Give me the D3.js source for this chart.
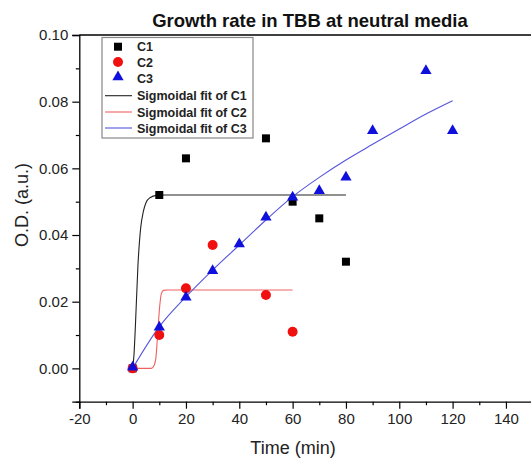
<!DOCTYPE html>
<html>
<head>
<meta charset="utf-8">
<script src="https://cdn.jsdelivr.net/npm/d3@7/dist/d3.min.js"></script>
<style>
body { margin: 0; background: #fff; }
text { font-family: Arial, "Liberation Sans", sans-serif; }
</style>
</head>
<body>
<div id="chart"></div>
<script>
var width = 531,
	height = 459;

// measured points
var c1 = [[0,0],[10,0.052],[20,0.063],[50,0.069],[60,0.050],[70,0.045],[80,0.032]];
var c2 = [[0,0],[10,0.010],[20,0.024],[30,0.037],[50,0.022],[60,0.011]];
var c3 = [[0,0],[10,0.012],[20,0.021],[30,0.029],[40,0.037],[50,0.045],[60,0.051],[70,0.053],[80,0.057],[90,0.071],[110,0.089],[120,0.071]];

// fitted curves
var fit1 = [[0,0],[0.5,0.004],[1,0.012],[2,0.031],[3,0.042],[4,0.047],[5,0.0497],[6.5,0.0512],[9,0.0519],[12,0.052],[80,0.052]];
var fit2 = [[0,0],[7,0],[8,0.0008],[8.7,0.003],[9.2,0.008],[9.7,0.014],[10.2,0.019],[10.8,0.0225],[11.6,0.0234],[13,0.0235],[60,0.0235]];
var fit3 = [[0,0],[10,0.0125],[20,0.0215],[30,0.0295],[40,0.037],[50,0.0445],[60,0.0515],[70,0.0573],[80,0.0625],[90,0.0672],[100,0.0718],[110,0.0763],[120,0.0803]];

var xTicks = [-20,0,20,40,60,80,100,120,140];
var xMinor = [-10,10,30,50,70,90,110,130,150];
var yTicks = [0,0.02,0.04,0.06,0.08,0.10];
var yMinor = [-0.01,0.01,0.03,0.05,0.07,0.09];

var legendItems = ["C1","C2","C3","Sigmoidal fit of C1","Sigmoidal fit of C2","Sigmoidal fit of C3"];

var svg = d3.select("#chart").append("svg")
	.attr("width", width)
	.attr("height", height);

var x = d3.scaleLinear().domain([-20,150]).range([79.3, 532.6]);
var y = d3.scaleLinear().domain([-0.01,0.10]).range([401.7, 35]);

// title
svg.append("text")
	.attr("x", 310).attr("y", 26.5)
	.attr("text-anchor","middle")
	.attr("font-size","18.5px")
	.attr("font-weight","bold")
	.attr("fill","#111")
	.text("Growth rate in TBB at neutral media");

// frame top line
svg.append("line")
	.attr("x1", x(-20)).attr("x2", width)
	.attr("y1", y(0.10)).attr("y2", y(0.10))
	.attr("stroke","#000").attr("stroke-width",1.3);

// axes (hyphen minus like the original)
var xFormat = function(d){ return String(d); };

svg.append("g")
	.attr("transform","translate(0," + y(-0.01) + ")")
	.call(d3.axisBottom(x).tickValues(xTicks).tickSize(7).tickPadding(5).tickFormat(xFormat));
svg.append("g")
	.attr("transform","translate(0," + y(-0.01) + ")")
	.call(d3.axisBottom(x).tickValues(xMinor).tickSize(3.5).tickFormat(""))
	.call(function(g){ g.select(".domain").remove(); });

svg.append("g")
	.attr("transform","translate(" + x(-20) + ",0)")
	.call(d3.axisLeft(y).tickValues(yTicks).tickSize(7).tickPadding(4).tickFormat(d3.format(".2f")));
svg.append("g")
	.attr("transform","translate(" + x(-20) + ",0)")
	.call(d3.axisLeft(y).tickValues(yMinor).tickSize(3.5).tickFormat(""))
	.call(function(g){ g.select(".domain").remove(); });

svg.selectAll(".domain").attr("stroke-width",1.3).attr("stroke","#000");
svg.selectAll(".tick line").attr("stroke-width",1.2);
svg.selectAll(".tick text").attr("font-size","15px").attr("fill","#222")
	.style("font-family","Arial, 'Liberation Sans', sans-serif");

// axis labels
svg.append("text")
	.attr("x", 293).attr("y", 454)
	.attr("text-anchor","middle")
	.attr("font-size","18px")
	.attr("fill","#222")
	.text("Time (min)");

svg.append("text")
	.attr("transform","translate(28,205) rotate(-90)")
	.attr("text-anchor","middle")
	.attr("font-size","18px")
	.attr("fill","#222")
	.text("O.D. (a.u.)");

// fit lines
var line = d3.line()
	.x(function(d){ return x(d[0]); })
	.y(function(d){ return y(d[1]); })
	.curve(d3.curveMonotoneX);

svg.append("path").datum(fit1).attr("d", line)
	.attr("fill","none").attr("stroke","#222").attr("stroke-width",1.1);
svg.append("path").datum(fit2).attr("d", line)
	.attr("fill","none").attr("stroke","#f06060").attr("stroke-width",1.1);
svg.append("path").datum(fit3).attr("d", line)
	.attr("fill","none").attr("stroke","#5555dd").attr("stroke-width",1.1);

// markers
var square = d3.symbol().type(d3.symbolSquare).size(64);
var circle = d3.symbol().type(d3.symbolCircle).size(78);
var triangle = d3.symbol().type(d3.symbolTriangle).size(55);

svg.selectAll(".c1").data(c1).enter().append("path")
	.attr("class","c1")
	.attr("d", square)
	.attr("transform", function(d){ return "translate(" + x(d[0]) + "," + y(d[1]) + ")"; })
	.attr("fill","#000");

svg.selectAll(".c2").data(c2).enter().append("path")
	.attr("class","c2")
	.attr("d", circle)
	.attr("transform", function(d){ return "translate(" + x(d[0]) + "," + y(d[1]) + ")"; })
	.attr("fill","#f01010");

svg.selectAll(".c3").data(c3).enter().append("path")
	.attr("class","c3")
	.attr("d", triangle)
	.attr("transform", function(d){ return "translate(" + x(d[0]) + "," + (y(d[1]) - 1) + ")"; })
	.attr("fill","#1010dd");

// legend
var legend = svg.append("g");
legend.append("rect")
	.attr("x", 102).attr("y", 37.5)
	.attr("width", 151).attr("height", 100.5)
	.attr("fill","#fff").attr("stroke","#888").attr("stroke-width",1.2);

var legendY = [46.7, 62, 78, 95.7, 112, 128];
var legendColor = ["#000","#f01010","#1010dd","#222","#f06060","#5555dd"];
var legendSym = [square, circle, triangle];

legendItems.forEach(function(name, i){
	var g = legend.append("g").attr("transform","translate(0," + legendY[i] + ")");
	if (i < 3) {
		g.append("path")
			.attr("d", legendSym[i])
			.attr("transform","translate(118," + (i === 2 ? -1 : 0) + ")")
			.attr("fill", legendColor[i]);
	} else {
		g.append("line")
			.attr("x1",105).attr("x2",132)
			.attr("stroke", legendColor[i]).attr("stroke-width",1.1);
	}
	g.append("text")
		.attr("x", 137).attr("dy","0.36em")
		.attr("font-size","12.5px")
		.attr("font-weight","bold")
		.attr("fill","#222")
		.text(name);
});
</script>
</body>
</html>
